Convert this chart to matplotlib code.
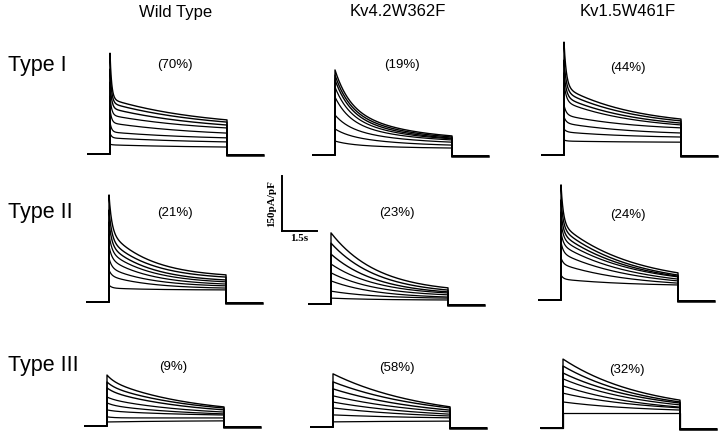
import numpy as np
import matplotlib.pyplot as plt

plt.rcParams['font.family'] = ['Liberation Sans', 'DejaVu Sans']

columns = ["Wild Type", "Kv4.2W362F", "Kv1.5W461F"]
rows = ["Type I", "Type II", "Type III"]
percents = [["(70%)", "(19%)", "(44%)"],
            ["(21%)", "(23%)", "(24%)"],
            ["(9%)", "(58%)", "(32%)"]]

# voltage protocol, seconds
pre_len = 0.95
pulse_len = 5.0
post_len = 1.55
tail_level = -3.0

# current (pA/pF) per sweep: spike peak, slow component at onset, end of pulse
wt1_peak = [275, 232, 196, 158, 123, 87, 57, 27]
wt1_early = [150, 139, 125, 106, 85, 60, 44, 25]
wt1_end = [93, 87, 79, 71, 57, 44, 33, 19]

kv4_1_peak = [232, 218, 205, 185, 158, 109, 71, 38]
kv4_1_early = [136, 128, 120, 109, 95, 76, 55, 30]
kv4_1_end = [52, 49, 46, 44, 41, 35, 27, 19]

kv1_1_peak = [308, 259, 224, 196, 136, 104, 71, 41]
kv1_1_early = [185, 172, 158, 145, 109, 87, 63, 38]
kv1_1_end = [98, 93, 87, 82, 74, 60, 49, 35]

wt2_peak = [292, 251, 218, 185, 153, 120, 87, 46]
wt2_early = [191, 169, 153, 136, 117, 93, 71, 38]
wt2_end = [74, 68, 60, 55, 49, 44, 38, 33]

kv4_2_peak = [194, 166, 136, 109, 85, 63, 35, 16]
kv4_2_early = [194, 166, 136, 109, 85, 63, 35, 16]
kv4_2_end = [44, 38, 33, 30, 25, 19, 16, 11]

kv1_2_peak = [314, 273, 240, 213, 185, 158, 115, 68]
kv1_2_early = [207, 194, 180, 166, 150, 128, 98, 57]
kv1_2_end = [74, 68, 65, 63, 57, 52, 46, 41]

wt3_peak = [139, 120, 104, 79, 63, 44, 25, 11]
wt3_early = [125, 109, 95, 74, 57, 41, 22, 11]
wt3_end = [52, 49, 44, 38, 33, 30, 22, 14]

kv4_3_peak = [145, 123, 104, 85, 68, 52, 33, 14]
kv4_3_early = [145, 123, 104, 85, 68, 52, 33, 14]
kv4_3_end = [55, 52, 46, 41, 35, 30, 25, 16]

kv1_3_peak = [188, 169, 150, 134, 115, 95, 71, 41]
kv1_3_early = [188, 169, 150, 134, 115, 95, 71, 41]
kv1_3_end = [76, 71, 68, 63, 57, 55, 49, 41]

# time constants (s): fast, slow
tau_fast = [[0.07, 0.6, 0.1], [0.12, 0.1, 0.1], [0.3, 0.1, 0.1]]
tau_slow = [[4.0, 2.5, 3.0], [1.8, 2.0, 3.0], [3.5, 4.0, 3.5]]

panels = [
    [(wt1_peak, wt1_early, wt1_end), (kv4_1_peak, kv4_1_early, kv4_1_end), (kv1_1_peak, kv1_1_early, kv1_1_end)],
    [(wt2_peak, wt2_early, wt2_end), (kv4_2_peak, kv4_2_early, kv4_2_end), (kv1_2_peak, kv1_2_early, kv1_2_end)],
    [(wt3_peak, wt3_early, wt3_end), (kv4_3_peak, kv4_3_early, kv4_3_end), (kv1_3_peak, kv1_3_early, kv1_3_end)],
]

# layout in pixels (step onset x, baseline y)
W, H = 720, 438
step_x = [[110, 335, 564], [109, 331, 561], [107, 333, 563]]
base_y = [[154, 155, 155], [302, 304, 300], [426, 427, 428]]
px_per_s = 117 / pulse_len
px_per_pa = 55 / 150.0
xlo, xhi = -1.2, 6.8
ylo, yhi = -20, 330

fig = plt.figure(figsize=(7.2, 4.38), dpi=100)


def add_panel(x0, y0):
    left = x0 + xlo * px_per_s
    width = (xhi - xlo) * px_per_s
    bottom = y0 - ylo * px_per_pa
    height = (yhi - ylo) * px_per_pa
    ax = fig.add_axes([left / W, (H - bottom) / H, width / W, height / H])
    ax.set_xlim(xlo, xhi)
    ax.set_ylim(ylo, yhi)
    ax.axis('off')
    return ax


t_pulse = np.linspace(0, pulse_len, 600)
for r in range(3):
    for c in range(3):
        ax = add_panel(step_x[r][c], base_y[r][c])
        peak, early, end = panels[r][c]
        tf, ts = tau_fast[r][c], tau_slow[r][c]
        g = (np.exp(-t_pulse / ts) - np.exp(-pulse_len / ts)) / (1 - np.exp(-pulse_len / ts))
        for k in range(len(peak)):
            cur = end[k] + (early[k] - end[k]) * g + (peak[k] - early[k]) * np.exp(-t_pulse / tf)
            x = np.concatenate([[-pre_len, 0], t_pulse, [pulse_len, pulse_len + post_len]])
            y = np.concatenate([[0, 0], cur, [tail_level, tail_level]])
            ax.plot(x, y, color='black', lw=1.0 if k < 3 else 0.9)
        ax.plot([pulse_len, pulse_len + post_len], [tail_level, tail_level], color='black', lw=1.8)

# scale bar
sax = add_panel(282, 231)
sax.plot([0, 0], [0, 150], color='black', lw=1.4)
sax.plot([0, 1.5], [0, 0], color='black', lw=1.4)
sax.text(-0.25, 75, "150pA/pF", rotation=90, ha='right', va='center',
         family='Liberation Serif', fontweight='bold', fontsize=8)
sax.text(0.75, -8, "1.5s", ha='center', va='top',
         family='Liberation Serif', fontweight='bold', fontsize=8)

# headers and labels
col_x = [176, 398, 628]
for name, cx in zip(columns, col_x):
    fig.text(cx / W, 1 - 12 / H, name, ha='center', va='center', fontsize=12)

row_y = [65, 213, 365]
for name, ry in zip(rows, row_y):
    fig.text(8 / W, 1 - ry / H, name, ha='left', va='center', fontsize=15.5)

pct_x = [[175, 402, 628], [175, 397, 628], [173, 397, 627]]
pct_y = [[65, 65, 68], [213, 213, 215], [367, 368, 370]]
for r in range(3):
    for c in range(3):
        fig.text(pct_x[r][c] / W, 1 - pct_y[r][c] / H, percents[r][c],
                 ha='center', va='center', fontsize=9.5)

fig.savefig('out.png', dpi=100)
